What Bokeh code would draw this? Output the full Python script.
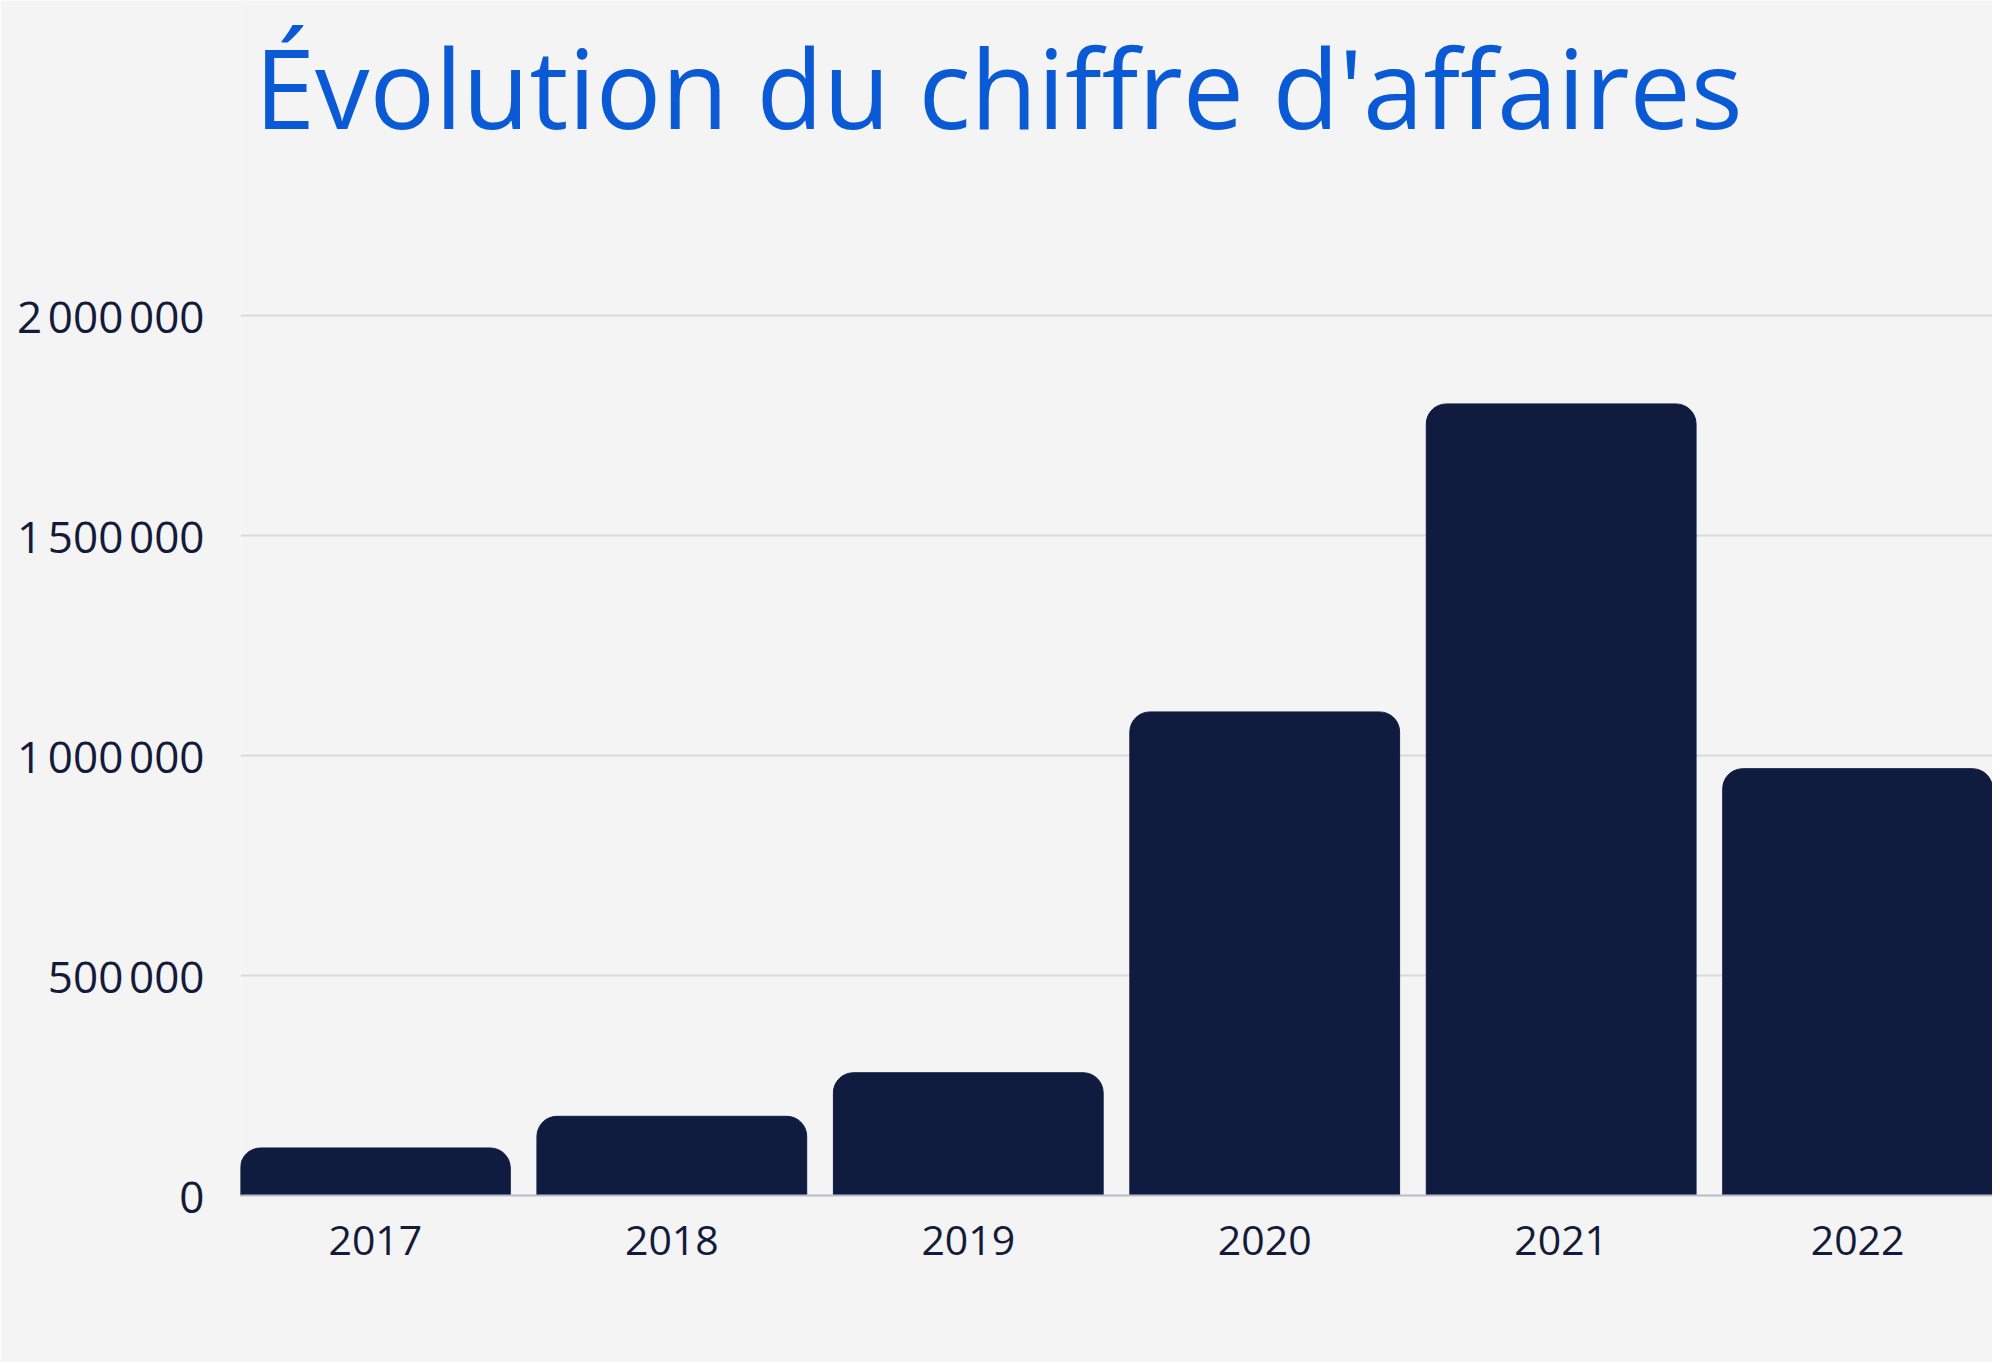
from bokeh.plotting import figure
from bokeh.models import ColumnDataSource, FixedTicker, Range1d, Label
from bokeh.embed import file_html
from bokeh.resources import INLINE

# ---- data ----
years = ["2017", "2018", "2019", "2020", "2021", "2022"]
revenue = [108000, 180000, 279000, 1099000, 1799000, 970000]
y_ticks = [0, 500000, 1000000, 1500000, 2000000]
y_tick_labels = ["0", "500\u202f000", "1\u202f000\u202f000", "1\u202f500\u202f000", "2\u202f000\u202f000"]
title_text = "Évolution du chiffre d'affaires"

# ---- style ----
BG = "#f4f4f4"
BAR = "#0f1c40"
TXT = "#141b3a"
TITLE = "#0b5ad5"
FONT = "Open Sans"

xs = list(range(len(years)))
src = ColumnDataSource(data=dict(x=xs, top=revenue, year=years))

# frame spans from the top of the canvas down to the baseline (1195 px),
# so that the title annotation can be placed freely above the grid
FRAME_BOTTOM = 1195
PX_PER_UNIT = 220 / 500000
y_top = FRAME_BOTTOM / PX_PER_UNIT

p = figure(
    width=1992, height=1362,
    x_range=Range1d(-0.455, len(years) - 1 + 0.455),
    y_range=Range1d(0, y_top),
    output_backend="svg", toolbar_location=None,
    min_border_left=240, min_border_right=0,
    min_border_top=0, min_border_bottom=1362 - FRAME_BOTTOM,
    background_fill_color=BG, border_fill_color=BG,
    outline_line_color=None,
)

title = Label(x=14, y=1109, x_units="screen", y_units="screen",
              text=title_text, text_font=FONT, text_font_size="109px",
              text_color=TITLE, text_baseline="alphabetic", text_align="left")
p.add_layout(title)

p.vbar(x="x", top="top", width=0.91, source=src, fill_color=BAR,
       line_color=BAR, line_width=1, border_radius=(20, 20, 0, 0))

# y axis
p.yaxis.ticker = FixedTicker(ticks=y_ticks)
p.yaxis.major_label_overrides = {t: l for t, l in zip(y_ticks, y_tick_labels)}
p.yaxis.axis_line_color = None
p.yaxis.major_tick_line_color = None
p.yaxis.minor_tick_line_color = None
p.yaxis.major_tick_out = 0
p.yaxis.major_label_standoff = 36
p.yaxis.major_label_text_font = FONT
p.yaxis.major_label_text_font_size = "44px"
p.yaxis.major_label_text_color = TXT

# x axis
p.xaxis.ticker = FixedTicker(ticks=xs)
p.xaxis.major_label_overrides = {i: y for i, y in zip(xs, years)}
p.xaxis.axis_line_color = "#b8bcc6"
p.xaxis.axis_line_width = 2
p.xaxis.major_tick_line_color = None
p.xaxis.minor_tick_line_color = None
p.xaxis.major_tick_out = 0
p.xaxis.major_label_standoff = 30
p.xaxis.major_label_text_font = FONT
p.xaxis.major_label_text_font_size = "41px"
p.xaxis.major_label_text_color = TXT

p.xgrid.grid_line_color = None
p.ygrid.grid_line_color = "#d9dadf"
p.ygrid.grid_line_width = 2

open("out.html", "w").write(file_html(p, INLINE))
